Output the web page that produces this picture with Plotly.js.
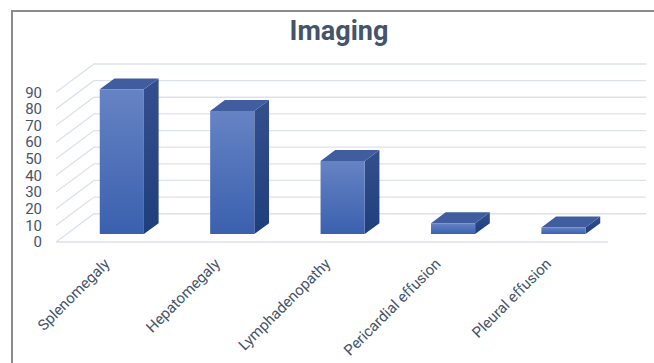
<!DOCTYPE html>
<html>
<head>
<meta charset="utf-8">
<script src="https://cdn.plot.ly/plotly-3.0.1.min.js"></script>
<style>
  html, body { margin: 0; padding: 0; width: 654px; height: 363px; overflow: hidden; background: #ffffff; }
  #frame { position: absolute; left: 11px; top: 10px; width: 700px; height: 420px; border: 2px solid #8c8c8c; box-sizing: border-box; pointer-events: none; }
  #chart { position: absolute; left: 0; top: 0; width: 654px; height: 363px; }
</style>
</head>
<body>
<div id="frame"></div>
<div id="chart"></div>
<script>
// ---- data ----
const categories = ['Splenomegaly', 'Hepatomegaly', 'Lymphadenopathy', 'Pericardial effusion', 'Pleural effusion'];
const values = [87, 74, 44, 6.5, 4];
const yTicks = [0, 10, 20, 30, 40, 50, 60, 70, 80, 90];
const yTickText = ['0', '10', '20', '30', '40', '50', '60', '70', '80', '90'];

// ---- 3D projection style (oblique depth offset in axis units) ----
const DX = 0.344;     // depth shift along x (category units)
const DY = 17;        // depth shift along y (value units)
const D0 = 0.28;      // bar front-face depth position (fraction of floor depth)
const DEPTH = 0.387;  // bar depth (fraction of floor depth)
const HALF_W = 0.2;   // half bar width (category units)
const XL = -0.5, XR = categories.length - 0.5;

const traces = [];

// walls / gridlines built from the tick values
const gx = [], gy = [];
yTicks.forEach(t => {
  gx.push(XL, XL + DX, XR + DX, null);
  gy.push(t, t + DY, t + DY, null);
});
gx.push(XL, XR, null);
gy.push(0, 0, null);
traces.push({
  type: 'scatter', mode: 'lines', x: gx, y: gy,
  line: { color: '#dce2ea', width: 1.3 }, hoverinfo: 'skip', showlegend: false
});

// bars
const bx = DX * DEPTH, by = DY * DEPTH;
values.forEach((v, i) => {
  const x0 = i - HALF_W + DX * D0, x1 = i + HALF_W + DX * D0;
  const yb = DY * D0, yt = v + DY * D0;
  // side face
  traces.push({
    type: 'scatter', mode: 'lines', fill: 'toself',
    x: [x1, x1, x1 + bx, x1 + bx, x1], y: [yb, yt, yt + by, yb + by, yb],
    line: { width: 0, color: 'rgba(0,0,0,0)' },
    fillgradient: { type: 'vertical', start: yb, stop: yt + by, colorscale: [[0, '#1f3e7c'], [1, '#344f8e']] },
    hoverinfo: 'skip', showlegend: false
  });
  // top face
  traces.push({
    type: 'scatter', mode: 'lines', fill: 'toself',
    x: [x0, x1, x1 + bx, x0 + bx, x0], y: [yt, yt, yt + by, yt + by, yt],
    line: { width: 0, color: 'rgba(0,0,0,0)' },
    fillcolor: '#405e9f', hoverinfo: 'skip', showlegend: false
  });
  // front face
  traces.push({
    type: 'scatter', mode: 'lines', fill: 'toself',
    x: [x0, x1, x1, x0, x0], y: [yb, yb, yt, yt, yb],
    line: { width: 0, color: 'rgba(0,0,0,0)' },
    fillgradient: { type: 'vertical', start: yb, stop: yt, colorscale: [[0, '#3a60ae'], [1, '#6683c4']] },
    hoverinfo: 'skip', showlegend: false
  });
});

const labelFont = { family: 'Roboto, "Open Sans", sans-serif', size: 15, color: '#44546a' };

const layout = {
  width: 654, height: 363,
  margin: { l: 56, r: 8, t: 59, b: 116 },
  paper_bgcolor: 'rgba(0,0,0,0)', plot_bgcolor: 'rgba(0,0,0,0)',
  showlegend: false,
  title: {
    text: 'Imaging',
    font: { family: 'Roboto, "Open Sans", sans-serif', size: 27, color: '#44546a', weight: 700 },
    x: 339 / 654, xref: 'container', xanchor: 'center',
    y: 1 - 31 / 363, yref: 'container', yanchor: 'middle'
  },
  xaxis: {
    range: [XL, XR + DX], showgrid: false, zeroline: false, showline: false,
    tickmode: 'array', tickvals: categories.map((c, i) => i), ticktext: categories,
    tickangle: -45, ticks: '', ticklabelstandoff: 4, ticklabelshift: -6, tickfont: labelFont, fixedrange: true
  },
  yaxis: {
    range: [-3, 110], showgrid: false, zeroline: false, showline: false,
    tickmode: 'array', tickvals: yTicks, ticktext: yTickText,
    ticks: '', ticklabelstandoff: 13, tickfont: labelFont, fixedrange: true
  }
};

Plotly.newPlot('chart', traces, layout, { staticPlot: true, displayModeBar: false });
</script>
</body>
</html>
